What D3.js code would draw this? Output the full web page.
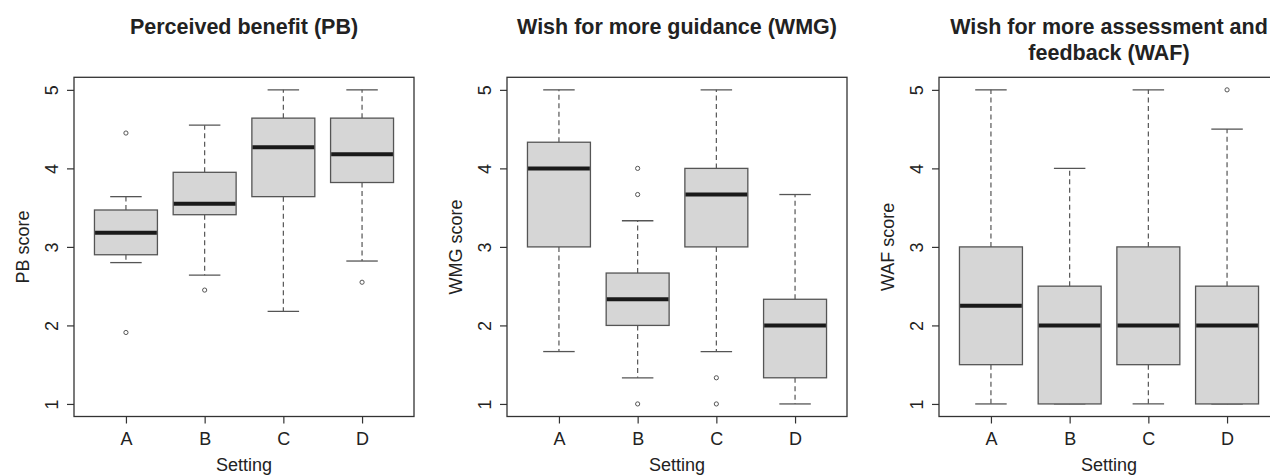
<!DOCTYPE html>
<html>
<head>
<meta charset="UTF-8">
<title>Setting boxplots</title>
<script src="https://cdn.jsdelivr.net/npm/d3@7"></script>
<style>
  body { margin: 0; background: #fff; }
  text { font-family: "Liberation Sans", Arial, sans-serif; fill: #222; }
</style>
</head>
<body>
<script>
var w = 1270, h = 475;

var settings = ["A", "B", "C", "D"];
var yTicks = [1, 2, 3, 4, 5];

// perceived benefit
var pbLow  = [2.80, 2.64, 2.18, 2.82];
var pbQ1   = [2.90, 3.41, 3.64, 3.82];
var pbMed  = [3.18, 3.55, 4.27, 4.18];
var pbQ3   = [3.47, 3.95, 4.64, 4.64];
var pbHigh = [3.64, 4.55, 5.00, 5.00];
var pbOut  = [[4.45, 1.91], [2.45], [], [2.55]];

// wish for more guidance
var wmgLow  = [1.667, 1.333, 1.667, 1.000];
var wmgQ1   = [3.000, 2.000, 3.000, 1.333];
var wmgMed  = [4.000, 2.333, 3.667, 2.000];
var wmgQ3   = [4.333, 2.667, 4.000, 2.333];
var wmgHigh = [5.000, 3.333, 5.000, 3.667];
var wmgOut  = [[], [4.0, 3.667, 1.0], [1.333, 1.0], []];

// wish for more assessment and feedback
var wafLow  = [1.0, 1.0, 1.0, 1.0];
var wafQ1   = [1.5, 1.0, 1.5, 1.0];
var wafMed  = [2.25, 2.0, 2.0, 2.0];
var wafQ3   = [3.0, 2.5, 3.0, 2.5];
var wafHigh = [5.0, 4.0, 5.0, 4.5];
var wafOut  = [[], [], [], [5.0]];

var panels = [
  {title: ["Perceived benefit (PB)"], ylab: "PB score", left: 74,
   low: pbLow, q1: pbQ1, med: pbMed, q3: pbQ3, high: pbHigh, out: pbOut},
  {title: ["Wish for more guidance (WMG)"], ylab: "WMG score", left: 507,
   low: wmgLow, q1: wmgQ1, med: wmgMed, q3: wmgQ3, high: wmgHigh, out: wmgOut},
  {title: ["Wish for more assessment and", "feedback (WAF)"], ylab: "WAF score", left: 939,
   low: wafLow, q1: wafQ1, med: wafMed, q3: wafQ3, high: wafHigh, out: wafOut}
];

var plotTop = 77.3, plotH = 339.2, plotW = 340;

var svg = d3.select("body").append("svg")
  .attr("width", w).attr("height", h);

var y = d3.scaleLinear().domain([0.84, 5.16]).range([plotTop + plotH, plotTop]);

panels.forEach(function(p) {
  var x = d3.scalePoint().domain(settings)
    .range([p.left, p.left + plotW]).padding(0.66);
  var bw = x.step() * 0.8;
  var g = svg.append("g");

  var rows = settings.map(function(s, i) {
    return {s: s, low: p.low[i], q1: p.q1[i], med: p.med[i], q3: p.q3[i], high: p.high[i], out: p.out[i]};
  });

  // whiskers
  g.selectAll(".wup").data(rows).enter().append("line")
    .attr("x1", function(d) { return x(d.s); }).attr("x2", function(d) { return x(d.s); })
    .attr("y1", function(d) { return y(d.q3); }).attr("y2", function(d) { return y(d.high); })
    .attr("stroke", "#555").attr("stroke-width", 1.2).attr("stroke-dasharray", "5,3.5");
  g.selectAll(".wdn").data(rows).enter().append("line")
    .attr("x1", function(d) { return x(d.s); }).attr("x2", function(d) { return x(d.s); })
    .attr("y1", function(d) { return y(d.q1); }).attr("y2", function(d) { return y(d.low); })
    .attr("stroke", "#555").attr("stroke-width", 1.2).attr("stroke-dasharray", "5,3.5");

  // caps
  ["high", "low"].forEach(function(k) {
    g.selectAll(".cap-" + k).data(rows).enter().append("line")
      .attr("x1", function(d) { return x(d.s) - bw / 4; })
      .attr("x2", function(d) { return x(d.s) + bw / 4; })
      .attr("y1", function(d) { return y(d[k]); }).attr("y2", function(d) { return y(d[k]); })
      .attr("stroke", "#555").attr("stroke-width", 1.3);
  });

  // boxes
  g.selectAll(".box").data(rows).enter().append("rect")
    .attr("x", function(d) { return x(d.s) - bw / 2; })
    .attr("width", bw)
    .attr("y", function(d) { return y(d.q3); })
    .attr("height", function(d) { return y(d.q1) - y(d.q3); })
    .attr("fill", "#d6d6d6").attr("stroke", "#555").attr("stroke-width", 1.3);

  // medians
  g.selectAll(".med").data(rows).enter().append("line")
    .attr("x1", function(d) { return x(d.s) - bw / 2 + 0.6; })
    .attr("x2", function(d) { return x(d.s) + bw / 2 - 0.6; })
    .attr("y1", function(d) { return y(d.med); }).attr("y2", function(d) { return y(d.med); })
    .attr("stroke", "#1a1a1a").attr("stroke-width", 4);

  // outliers
  var pts = [];
  rows.forEach(function(d) { d.out.forEach(function(v) { pts.push({s: d.s, v: v}); }); });
  g.selectAll(".out").data(pts).enter().append("circle")
    .attr("cx", function(d) { return x(d.s); })
    .attr("cy", function(d) { return y(d.v); })
    .attr("r", 2.1).attr("fill", "none").attr("stroke", "#555").attr("stroke-width", 1);

  // frame
  g.append("rect").attr("x", p.left).attr("y", plotTop)
    .attr("width", plotW).attr("height", plotH)
    .attr("fill", "none").attr("stroke", "#333").attr("stroke-width", 1.3);

  // axes
  var ya = g.append("g").attr("transform", "translate(" + p.left + ",0)")
    .call(d3.axisLeft(y).tickValues(yTicks).tickFormat(d3.format("d"))
      .tickSize(7).tickSizeOuter(0));
  ya.select(".domain").remove();
  ya.selectAll("line").attr("stroke", "#333").attr("stroke-width", 1.2);
  ya.selectAll("text")
    .attr("x", 0).attr("y", -16).attr("dy", 0)
    .attr("text-anchor", "middle").attr("transform", "rotate(-90)")
    .style("font-size", "18px").attr("fill", "#222");

  var xa = g.append("g").attr("transform", "translate(0," + (plotTop + plotH) + ")")
    .call(d3.axisBottom(x).tickSize(7).tickSizeOuter(0));
  xa.select(".domain").remove();
  xa.selectAll("line").attr("stroke", "#333").attr("stroke-width", 1.2);
  xa.selectAll("text").attr("y", 28.5).attr("dy", 0)
    .style("font-size", "18px").attr("fill", "#222");
  ya.attr("font-family", null);
  xa.attr("font-family", null);

  var cx = p.left + plotW / 2;

  // labels
  g.append("text").attr("x", cx).attr("y", 471)
    .attr("text-anchor", "middle").style("font-size", "18px").text("Setting");
  g.append("text")
    .attr("transform", "translate(" + (p.left - 45) + "," + (plotTop + plotH / 2) + ") rotate(-90)")
    .attr("text-anchor", "middle").style("font-size", "18px").text(p.ylab);

  p.title.forEach(function(t, i) {
    g.append("text").attr("x", cx).attr("y", 34.3 + i * 25.3)
      .attr("text-anchor", "middle").style("font-size", "21.5px").style("font-weight", "bold")
      .text(t);
  });
});
</script>
</body>
</html>
